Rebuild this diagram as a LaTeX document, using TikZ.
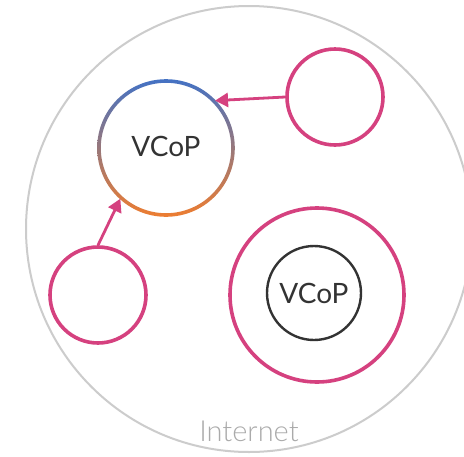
\documentclass[tikz,border=0pt]{standalone}
\usepackage{fontspec}
\setmainfont{Lato}
\newfontfamily\lightfont{Lato Light}
\usetikzlibrary{arrows.meta}
\definecolor{netgray}{HTML}{CCCCCC}
\definecolor{nettext}{HTML}{AAAAAA}
\definecolor{peer}{HTML}{D5417F}
\definecolor{ink}{HTML}{333333}
\definecolor{ringtop}{HTML}{4472C4}
\definecolor{ringbot}{HTML}{ED7D31}
\tikzset{
  net/.style={circle, draw=netgray, line width=2pt, minimum size=446pt, inner sep=0pt},
  peernode/.style={circle, draw=peer, line width=3.6pt, inner sep=0pt},
  coptext/.style={text=ink, font=\fontsize{28}{28}\selectfont},
  cop/.style={circle, draw=ink, line width=2.4pt, minimum size=94pt, inner sep=0pt, coptext},
  link/.style={draw=peer, line width=2.8pt, -{Triangle[length=13pt,width=14pt]}}
}
\begin{document}
\begin{tikzpicture}[x=1pt,y=-1pt]
\useasboundingbox (0,0) rectangle (464,456);
\fill[white] (0,0) rectangle (464,456);
% the Internet
\node[net] (internet) at (249,229) {};
\node[text=nettext, font=\lightfont\fontsize{29}{29}\selectfont, anchor=base] (lbl) at (249,441) {Internet};
% shaded community of practice: ring and its label
\node[circle, minimum size=136pt, inner sep=0pt] (vcop) at (166,148) {};
\shade[top color=ringtop, bottom color=ringbot, even odd rule]
  (vcop.center) circle (68.8) (vcop.center) circle (65.2);
\node[coptext] (vcoplbl) at (166,146) {VCoP};
% peers
\node[peernode, minimum size=96pt] (tr) at (335,97) {};
\node[peernode, minimum size=96pt] (bl) at (98,295) {};
\node[peernode, minimum size=174pt] (big) at (317,295) {};
\node[cop] (inner) at (314,293) {VCoP};
% links
\draw[link] (tr.180) -- (vcop.44);
\draw[link] (bl.90) -- (vcop.-132);
\end{tikzpicture}
\end{document}
